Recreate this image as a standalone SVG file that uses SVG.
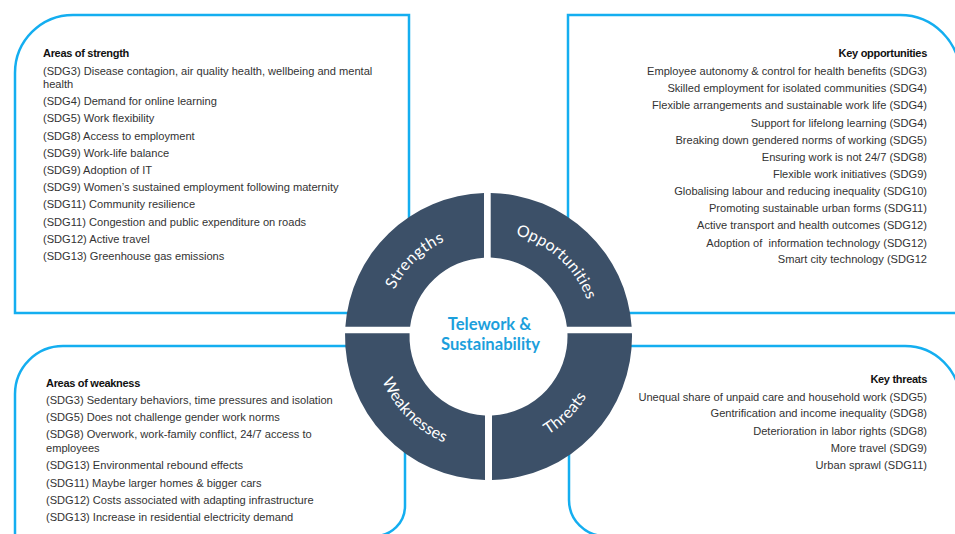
<svg xmlns="http://www.w3.org/2000/svg" width="955" height="534" viewBox="0 0 955 534">
  <style>
    .box { fill: none; stroke: #14aef0; stroke-width: 2.5; }
    .item { font-family: "Liberation Sans", Arial, sans-serif; font-size: 11.1px; fill: #333; }
    .head { font-family: "Liberation Sans", Arial, sans-serif; font-size: 11px; font-weight: bold; fill: #111; letter-spacing: -0.3px; }
    .r { text-anchor: end; }
    .seg { fill: #3c5068; }
    .lbl { font-family: Lato, "Open Sans", sans-serif; font-size: 16px; fill: #ffffff; }
    .core { font-family: Lato, "Open Sans", sans-serif; font-size: 16.6px; font-weight: bold; fill: #1c9fdc; text-anchor: middle; }
  </style>
  <defs>
    <!-- label baselines: top arcs run clockwise, bottom arcs anticlockwise -->
    <path id="arcTL" d="M383.5,336.5 A105,105 0 0 1 488.5,231.5"/>
    <path id="arcTR" d="M488.5,231.5 A105,105 0 0 1 593.5,336.5"/>
    <path id="arcBL" d="M373.5,336.5 A115,115 0 0 0 488.5,451.5"/>
    <path id="arcBR" d="M488.5,451.5 A115,115 0 0 0 603.5,336.5"/>
  </defs>

  <rect width="955" height="534" fill="#ffffff"/>

  <!-- Strengths panel -->
  <g id="strengths-panel">
    <path class="box" d="M409,15 L73,15 A58,58 0 0 0 15,73 L15,313 L409,313 Z"/>
    <text class="head" x="43" y="56.5">Areas of strength</text>
    <text class="item" x="43" y="75">(SDG3) Disease contagion, air quality health, wellbeing and mental</text>
    <text class="item" x="43" y="88">health</text>
    <text class="item" x="43" y="105">(SDG4) Demand for online learning</text>
    <text class="item" x="43" y="122">(SDG5) Work flexibility</text>
    <text class="item" x="43" y="139.5">(SDG8) Access to employment</text>
    <text class="item" x="43" y="156.5">(SDG9) Work-life balance</text>
    <text class="item" x="43" y="173.5">(SDG9) Adoption of IT</text>
    <text class="item" x="43" y="191">(SDG9) Women’s sustained employment following maternity</text>
    <text class="item" x="43" y="208">(SDG11) Community resilience</text>
    <text class="item" x="43" y="225.5">(SDG11) Congestion and public expenditure on roads</text>
    <text class="item" x="43" y="242.5">(SDG12) Active travel</text>
    <text class="item" x="43" y="259.5">(SDG13) Greenhouse gas emissions</text>
  </g>

  <!-- Opportunities panel -->
  <g id="opportunities-panel">
    <path class="box" d="M568,15 L900,15 A60,60 0 0 1 960,75 L960,313 L568,313 Z"/>
    <text class="head r" x="927" y="57">Key opportunities</text>
    <text class="item r" x="927" y="75">Employee autonomy &amp; control for health benefits (SDG3)</text>
    <text class="item r" x="927" y="92.3">Skilled employment for isolated communities (SDG4)</text>
    <text class="item r" x="927" y="109.3">Flexible arrangements and sustainable work life (SDG4)</text>
    <text class="item r" x="927" y="126.7">Support for lifelong learning (SDG4)</text>
    <text class="item r" x="927" y="143.5">Breaking down gendered norms of working (SDG5)</text>
    <text class="item r" x="927" y="161">Ensuring work is not 24/7 (SDG8)</text>
    <text class="item r" x="927" y="178">Flexible work initiatives (SDG9)</text>
    <text class="item r" x="927" y="195">Globalising labour and reducing inequality (SDG10)</text>
    <text class="item r" x="927" y="212.3">Promoting sustainable urban forms (SDG11)</text>
    <text class="item r" x="927" y="229.3">Active transport and health outcomes (SDG12)</text>
    <text class="item r" x="927" y="246.7" style="white-space:pre">Adoption of  information technology (SDG12)</text>
    <text class="item r" x="927" y="263.3">Smart city technology (SDG12</text>
  </g>

  <!-- Weaknesses panel -->
  <g id="weaknesses-panel">
    <path class="box" d="M405,346 L63,346 A48,48 0 0 0 15,394 L15,536 L375,536 A30,30 0 0 0 405,506 Z"/>
    <text class="head" x="46" y="386.7">Areas of weakness</text>
    <text class="item" x="46" y="404">(SDG3) Sedentary behaviors, time pressures and isolation</text>
    <text class="item" x="46" y="421">(SDG5) Does not challenge gender work norms</text>
    <text class="item" x="46" y="438.3">(SDG8) Overwork, work-family conflict, 24/7 access to</text>
    <text class="item" x="46" y="451.7">employees</text>
    <text class="item" x="46" y="469.3">(SDG13) Environmental rebound effects</text>
    <text class="item" x="46" y="486.7">(SDG11) Maybe larger homes &amp; bigger cars</text>
    <text class="item" x="46" y="503.5">(SDG12) Costs associated with adapting infrastructure</text>
    <text class="item" x="46" y="521">(SDG13) Increase in residential electricity demand</text>
  </g>

  <!-- Threats panel -->
  <g id="threats-panel">
    <path class="box" d="M569,346 L905,346 A55,55 0 0 1 960,401 L960,536 L605,536 A36,36 0 0 1 569,500 Z"/>
    <text class="head r" x="927" y="383.3">Key threats</text>
    <text class="item r" x="927" y="400.7">Unequal share of unpaid care and household work (SDG5)</text>
    <text class="item r" x="927" y="417.3">Gentrification and income inequality (SDG8)</text>
    <text class="item r" x="927" y="434.7">Deterioration in labor rights (SDG8)</text>
    <text class="item r" x="927" y="452">More travel (SDG9)</text>
    <text class="item r" x="927" y="469.3">Urban sprawl (SDG11)</text>
  </g>

  <!-- SWOT ring -->
  <g id="ring-strengths">
    <path class="seg" d="M345.34,326.7 A143.5,143.5 0 0 1 484,193.07 L484,257.63 A79,79 0 0 0 410.11,326.7 Z"/>
    <text class="lbl" letter-spacing="0.5"><textPath href="#arcTL" startOffset="51%" text-anchor="middle">Strengths</textPath></text>
  </g>
  <g id="ring-opportunities">
    <path class="seg" d="M490.7,193.02 A143.5,143.5 0 0 1 631.66,326.7 L566.89,326.7 A79,79 0 0 0 490.7,257.53 Z"/>
    <text class="lbl" letter-spacing="0.2"><textPath href="#arcTR" startOffset="47%" text-anchor="middle">Opportunities</textPath></text>
  </g>
  <g id="ring-weaknesses">
    <path class="seg" d="M345.04,333.3 L409.57,333.3 A79,79 0 0 0 485,415.42 L485,479.96 A143.5,143.5 0 0 1 345.04,333.3 Z"/>
    <text class="lbl" letter-spacing="0.3"><textPath href="#arcBL" startOffset="50%" text-anchor="middle">Weaknesses</textPath></text>
  </g>
  <g id="ring-threats">
    <path class="seg" d="M492,415.42 A79,79 0 0 0 567.43,333.3 L631.96,333.3 A143.5,143.5 0 0 1 492,479.96 Z"/>
    <text class="lbl" letter-spacing="0.3"><textPath href="#arcBR" startOffset="50%" text-anchor="middle">Threats</textPath></text>
  </g>

  <!-- hub title -->
  <g id="hub">
    <text class="core" x="489.5" y="330">Telework &amp;</text>
    <text class="core" x="490.5" y="350">Sustainability</text>
  </g>
</svg>
